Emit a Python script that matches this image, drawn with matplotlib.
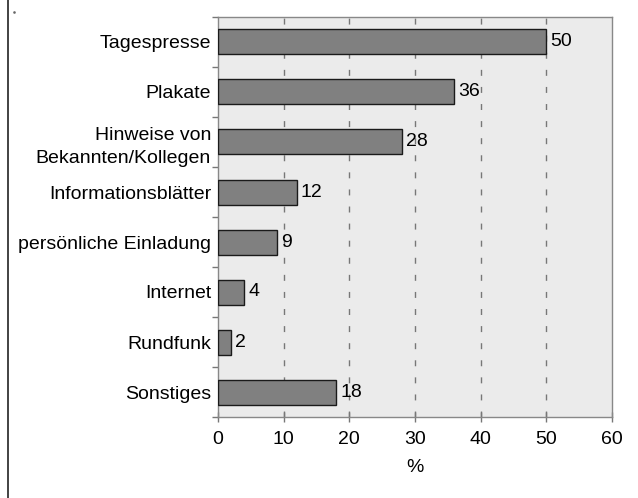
import matplotlib
matplotlib.use("Agg")
import matplotlib.pyplot as plt
from matplotlib.lines import Line2D
import numpy as np

plt.rcParams['font.family'] = ['Liberation Sans', 'DejaVu Sans']

categories = ['Tagespresse', 'Plakate', 'Hinweise von\nBekannten/Kollegen',
              'Informationsblätter', 'persönliche Einladung', 'Internet',
              'Rundfunk', 'Sonstiges']
values = [50, 36, 28, 12, 9, 4, 2, 18]
xticks = [0, 10, 20, 30, 40, 50, 60]

fs = 14

fig = plt.figure(figsize=(6.38, 4.98), dpi=100)
ax = fig.add_axes([218 / 638, 1 - 417 / 498, 394 / 638, 400 / 498])
ax.set_facecolor('#ebebeb')

y = np.arange(len(categories))
ax.barh(y, values, height=0.5, color='#808080', edgecolor='#1a1a1a',
        linewidth=1, zorder=3)
for yi, v in zip(y, values):
    ax.text(v + 0.6, yi, str(v), va='center', ha='left', fontsize=fs,
            zorder=4)

ax.set_xlim(0, 60)
ax.set_ylim(len(categories) - 0.5, -0.5)

# dashed vertical grid lines
for xv in xticks[1:-1]:
    ax.axvline(xv, color='#777777', linewidth=1, dashes=(4.3, 8), zorder=1)

ax.set_xticks(xticks)
ax.set_xticklabels([str(t) for t in xticks], fontsize=fs)
ax.set_yticks(y)
ax.set_yticklabels(categories, fontsize=fs, linespacing=1.45)
ax.set_yticks(np.arange(-0.5, len(categories)), minor=True)
ax.tick_params(axis='y', which='major', length=0, pad=5)
ax.tick_params(axis='y', which='minor', length=4, width=1, color='#777777',
               direction='out')
ax.tick_params(axis='x', which='major', length=6.5, width=1, color='#777777',
               direction='inout', pad=7)
ax.set_xlabel('%', fontsize=fs, labelpad=8)

for side in ['top', 'right', 'bottom', 'left']:
    ax.spines[side].set_color('#888888')
    ax.spines[side].set_linewidth(1)

# frame line on the left edge of the page and a stray dot
fig.add_artist(Line2D([7.5 / 638, 7.5 / 638], [0, 1], color='#222222',
                      linewidth=1.2))
fig.add_artist(Line2D([14 / 638], [1 - 12 / 498], marker='s', markersize=0.8,
                      color='#666666', linestyle='none'))

fig.savefig('out.png', dpi=100)
